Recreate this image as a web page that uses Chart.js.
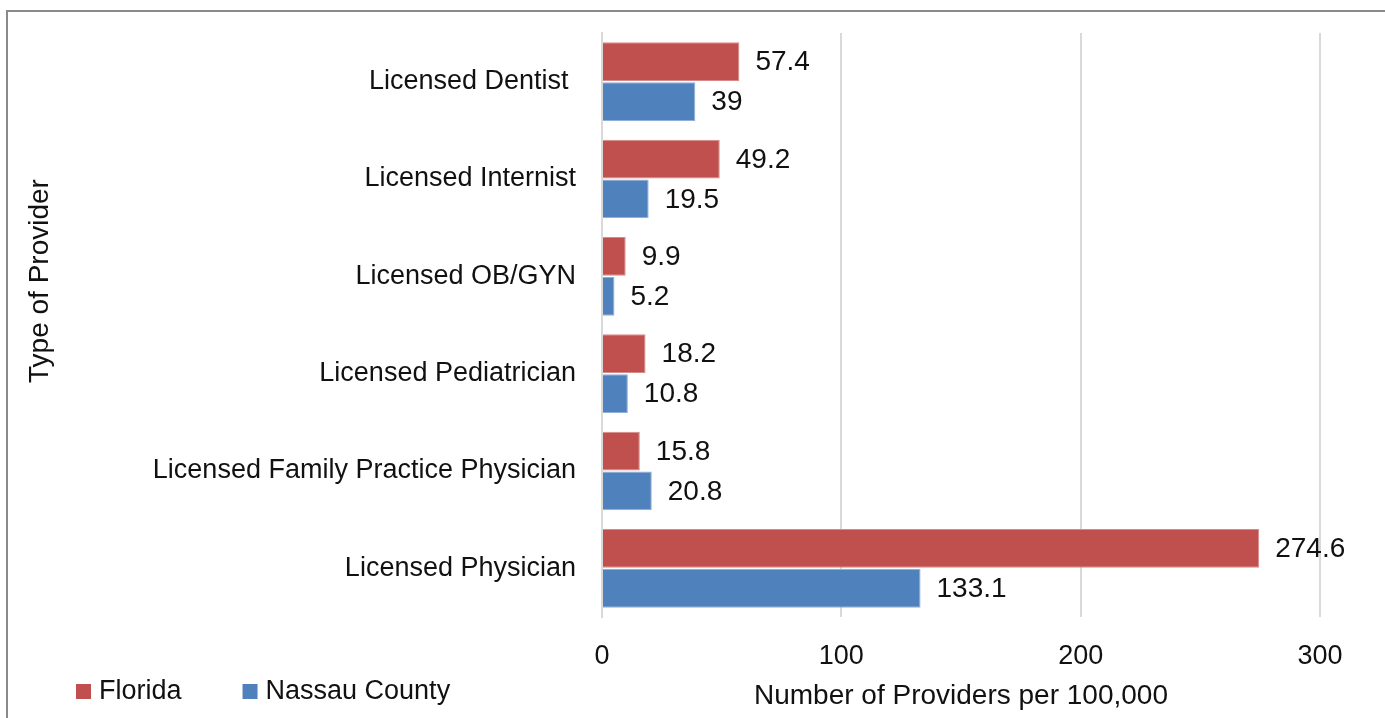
<!DOCTYPE html>
<html>
<head>
<meta charset="utf-8">
<style>
  html, body { margin: 0; padding: 0; background: #fff; overflow: hidden; }
  #wrap { position: relative; width: 1385px; height: 718px; }
  #frame { position: absolute; left: 6px; top: 10px; width: 1400px; height: 720px;
           border-left: 2px solid #8a8a8a; border-top: 2px solid #8a8a8a; pointer-events: none; }
  canvas { position: absolute; left: 0; top: 0; }
</style>
<script src="https://cdn.jsdelivr.net/npm/chart.js@4"></script>
</head>
<body>
<div id="wrap">
  <canvas id="c" width="1385" height="718"></canvas>
  <div id="frame"></div>
</div>
<script>
const categories = [
  'Licensed Dentist ',
  'Licensed Internist',
  'Licensed OB/GYN',
  'Licensed Pediatrician',
  'Licensed Family Practice Physician',
  'Licensed Physician'
];
const floridaValues = [57.4, 49.2, 9.9, 18.2, 15.8, 274.6];
const nassauValues = [39, 19.5, 5.2, 10.8, 20.8, 133.1];
const xTicks = [0, 100, 200, 300];
const seriesNames = ['Florida', 'Nassau County'];
const seriesColors = ['#C0504D', '#4F81BD'];

const FONT = "'Liberation Sans', Arial, sans-serif";
const TEXT = '#111';

// value labels just past the end of each bar
const valueLabels = {
  id: 'valueLabels',
  afterDatasetsDraw(chart) {
    const ctx = chart.ctx;
    ctx.save();
    ctx.font = '28px ' + FONT;
    ctx.fillStyle = TEXT;
    ctx.textAlign = 'left';
    ctx.textBaseline = 'middle';
    chart.data.datasets.forEach((ds, i) => {
      chart.getDatasetMeta(i).data.forEach((bar, j) => {
        ctx.fillText(String(ds.data[j]), bar.x + 16, bar.y + 1);
      });
    });
    ctx.restore();
  }
};

// vertical axis title and the legend row at the bottom left
const extras = {
  id: 'extras',
  afterDraw(chart) {
    const ctx = chart.ctx;
    ctx.save();
    ctx.fillStyle = TEXT;
    ctx.font = '28px ' + FONT;
    ctx.translate(40, 281);
    ctx.rotate(-Math.PI / 2);
    ctx.textAlign = 'center';
    ctx.textBaseline = 'middle';
    ctx.fillText('Type of Provider', 0, 0);
    ctx.restore();

    ctx.save();
    ctx.font = '27px ' + FONT;
    ctx.textBaseline = 'middle';
    ctx.textAlign = 'left';
    let x = 76;
    const y = 692;
    chart.data.datasets.forEach((ds) => {
      ctx.fillStyle = ds.backgroundColor;
      ctx.fillRect(x, y - 8, 15, 15);
      ctx.fillStyle = TEXT;
      ctx.fillText(ds.label, x + 23, y);
      x += 23 + ctx.measureText(ds.label).width + 61;
    });
    ctx.restore();
  }
};

new Chart(document.getElementById('c'), {
  type: 'bar',
  data: {
    labels: categories,
    datasets: [
      { label: seriesNames[0], data: floridaValues, backgroundColor: seriesColors[0],
        borderColor: '#D88A88', borderWidth: 1, barPercentage: 0.97, categoryPercentage: 0.82 },
      { label: seriesNames[1], data: nassauValues, backgroundColor: seriesColors[1],
        borderColor: '#8FB0DA', borderWidth: 1, barPercentage: 0.97, categoryPercentage: 0.82 }
    ]
  },
  options: {
    indexAxis: 'y',
    responsive: false,
    animation: false,
    layout: { padding: { top: 33, right: 65, left: 0, bottom: 0 } },
    plugins: { legend: { display: false }, tooltip: { enabled: false } },
    scales: {
      x: {
        min: 0, max: 300,
        afterBuildTicks(scale) { scale.ticks = xTicks.map(v => ({ value: v })); },
        afterFit(scale) { scale.height = 101; },
        grid: { color: '#d9d9d9', lineWidth: 2, drawTicks: false },
        border: { display: false },
        ticks: { padding: 23, color: TEXT, font: { family: FONT, size: 27 } },
        title: { display: true, text: 'Number of Providers per 100,000', color: TEXT,
                 font: { family: FONT, size: 28 }, padding: { top: 0, bottom: 5 } }
      },
      y: {
        afterFit(scale) {
          scale.width = 602;
          // keep the category band flush with the layout padding
          scale.paddingTop = 0;
          scale.paddingBottom = 0;
        },
        grid: { display: false, drawTicks: false },
        border: { display: true, color: '#d9d9d9', width: 2 },
        ticks: { padding: 26, color: TEXT, font: { family: FONT, size: 27 } }
      }
    }
  },
  plugins: [valueLabels, extras]
});
</script>
</body>
</html>
